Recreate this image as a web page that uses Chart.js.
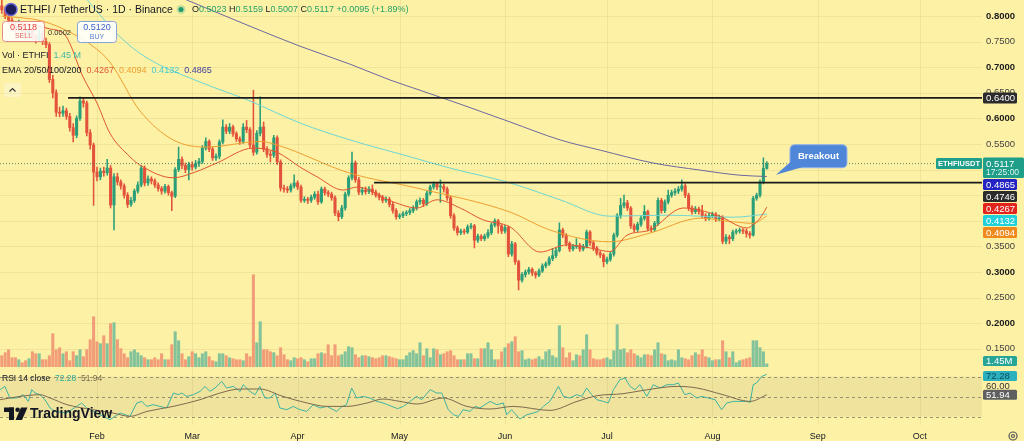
<!DOCTYPE html>
<html><head><meta charset="utf-8">
<script src="https://cdn.jsdelivr.net/npm/chart.js@4.4.1/dist/chart.umd.min.js"></script>
<style>html,body{margin:0;padding:0;background:#fdf1a6;overflow:hidden}canvas{display:block}</style>
</head><body>
<canvas id="c" width="1024" height="441"></canvas>
<script>
// ---------- DATA (day index: 0 = Jan 1) ----------
const candleStartDay = 3;
const firstOpen = 0.820;
const closes = [
0.812,0.800,0.792,0.780,0.776,0.783,0.770,0.764,0.773,0.760,
0.754,0.766,0.750,0.744,0.676,0.650,0.612,0.610,0.615,0.604,
0.582,0.567,0.600,0.634,0.630,0.572,0.548,0.495,0.486,0.497,
0.494,0.503,0.431,0.486,0.476,0.468,0.450,0.432,0.440,0.458,
0.470,0.503,0.474,0.482,0.478,0.470,0.463,0.458,0.467,0.455,
0.448,0.500,0.520,0.508,0.500,0.510,0.505,0.512,0.516,0.542,
0.555,0.540,0.523,0.526,0.554,0.583,0.575,0.583,0.570,0.560,
0.555,0.583,0.578,0.548,0.534,0.571,0.583,0.540,0.530,0.528,
0.562,0.515,0.464,0.462,0.460,0.468,0.474,0.466,0.440,0.442,
0.440,0.446,0.452,0.437,0.462,0.455,0.452,0.445,0.415,0.408,
0.425,0.452,0.484,0.513,0.480,0.456,0.460,0.457,0.462,0.456,
0.450,0.446,0.440,0.442,0.432,0.420,0.408,0.410,0.414,0.416,
0.420,0.425,0.437,0.440,0.433,0.454,0.466,0.472,0.466,0.467,
0.462,0.445,0.410,0.386,0.377,0.380,0.378,0.388,0.390,0.362,
0.370,0.365,0.370,0.377,0.392,0.400,0.390,0.380,0.387,0.335,
0.355,0.320,0.284,0.295,0.300,0.305,0.298,0.294,0.302,0.312,
0.316,0.326,0.332,0.342,0.382,0.372,0.356,0.345,0.350,0.352,
0.345,0.350,0.378,0.357,0.347,0.337,0.333,0.320,0.325,0.335,
0.372,0.410,0.430,0.435,0.425,0.390,0.383,0.393,0.405,0.418,
0.385,0.383,0.395,0.440,0.420,0.437,0.450,0.455,0.458,0.462,
0.468,0.450,0.425,0.418,0.423,0.418,0.410,0.405,0.410,0.412,
0.404,0.406,0.360,0.368,0.365,0.378,0.380,0.382,0.380,0.375,
0.372,0.444,0.450,0.476,0.5023,0.5117];
const highs = [
0.835,0.818,0.806,0.797,0.788,0.792,0.787,0.776,0.781,0.777,
0.765,0.772,0.770,0.757,0.748,0.684,0.656,0.622,0.624,0.620,
0.610,0.590,0.605,0.642,0.640,0.634,0.578,0.552,0.505,0.503,
0.505,0.520,0.508,0.492,0.493,0.480,0.472,0.455,0.446,0.462,
0.476,0.508,0.507,0.488,0.486,0.482,0.474,0.467,0.471,0.470,
0.458,0.504,0.544,0.525,0.513,0.514,0.515,0.518,0.522,0.547,
0.562,0.558,0.544,0.531,0.558,0.597,0.588,0.590,0.587,0.574,
0.564,0.590,0.596,0.582,0.655,0.576,0.642,0.593,0.545,0.536,
0.567,0.566,0.519,0.470,0.467,0.472,0.490,0.478,0.470,0.447,
0.446,0.450,0.457,0.458,0.466,0.466,0.459,0.456,0.449,0.420,
0.430,0.456,0.488,0.534,0.517,0.485,0.465,0.466,0.467,0.470,
0.460,0.454,0.450,0.447,0.446,0.436,0.424,0.414,0.418,0.420,
0.424,0.429,0.441,0.445,0.444,0.458,0.470,0.476,0.475,0.480,
0.471,0.466,0.448,0.414,0.390,0.384,0.384,0.392,0.395,0.393,
0.374,0.373,0.374,0.383,0.396,0.404,0.403,0.393,0.391,0.390,
0.360,0.358,0.323,0.299,0.304,0.309,0.308,0.301,0.306,0.316,
0.320,0.330,0.346,0.347,0.396,0.386,0.375,0.359,0.354,0.365,
0.356,0.354,0.382,0.381,0.360,0.350,0.341,0.336,0.329,0.339,
0.376,0.414,0.444,0.450,0.440,0.428,0.394,0.397,0.410,0.430,
0.421,0.390,0.399,0.445,0.444,0.441,0.460,0.460,0.463,0.467,
0.480,0.472,0.454,0.429,0.428,0.427,0.430,0.414,0.415,0.417,
0.416,0.411,0.410,0.373,0.372,0.382,0.384,0.386,0.385,0.384,
0.379,0.448,0.454,0.480,0.523,0.5159];
const lows = [
0.805,0.795,0.786,0.772,0.768,0.771,0.764,0.757,0.760,0.754,
0.747,0.750,0.744,0.738,0.670,0.640,0.604,0.603,0.604,0.598,
0.575,0.554,0.562,0.596,0.622,0.566,0.540,0.430,0.478,0.480,
0.487,0.489,0.425,0.382,0.470,0.462,0.444,0.426,0.428,0.436,
0.454,0.466,0.468,0.469,0.472,0.465,0.458,0.452,0.454,0.450,
0.420,0.445,0.496,0.502,0.494,0.480,0.499,0.501,0.506,0.512,
0.538,0.535,0.518,0.518,0.521,0.550,0.570,0.570,0.565,0.555,
0.549,0.551,0.572,0.542,0.528,0.530,0.566,0.535,0.524,0.515,
0.524,0.510,0.458,0.456,0.455,0.456,0.464,0.461,0.436,0.436,
0.434,0.436,0.442,0.432,0.434,0.450,0.447,0.440,0.410,0.400,
0.404,0.421,0.448,0.480,0.475,0.451,0.451,0.452,0.453,0.451,
0.446,0.441,0.435,0.436,0.427,0.415,0.403,0.404,0.406,0.410,
0.412,0.416,0.421,0.432,0.428,0.430,0.450,0.462,0.461,0.436,
0.456,0.440,0.405,0.381,0.372,0.373,0.374,0.375,0.384,0.347,
0.358,0.361,0.361,0.366,0.373,0.388,0.376,0.375,0.376,0.330,
0.331,0.315,0.265,0.280,0.290,0.296,0.293,0.288,0.291,0.299,
0.308,0.313,0.322,0.328,0.339,0.367,0.351,0.340,0.341,0.346,
0.340,0.341,0.347,0.352,0.342,0.333,0.328,0.310,0.316,0.321,
0.331,0.368,0.405,0.425,0.420,0.385,0.378,0.379,0.389,0.401,
0.380,0.378,0.379,0.391,0.415,0.416,0.433,0.446,0.450,0.453,
0.458,0.445,0.420,0.413,0.414,0.413,0.406,0.400,0.401,0.406,
0.399,0.400,0.355,0.355,0.355,0.361,0.374,0.376,0.375,0.368,
0.366,0.370,0.440,0.446,0.472,0.5007];
// volume in millions
const volumes = [
5.5,7,8.5,4.5,4.5,3.5,2,3,4,7.5,
6.5,6.5,3.5,3.5,5.5,16.5,8.5,9.5,6.5,7.5,
3,7.5,5.5,8.5,5,
8.5,13.5,25,12.5,11.5,15.5,11.5,21.5,22,13.5,
9,6.5,4.5,7.5,8.5,7,5.5,4.5,3.5,3.5,
4.5,3.5,6.5,3.5,3.5,11,17.5,13,6.5,3.5,
5,7.5,6.5,4.5,6.5,7.5,5,3,2.5,6.5,
6.5,5.5,4.5,4,3.5,3.5,3,6.5,5,
46,12,22.5,8.5,8.5,7.5,7,5.5,9.5,6,
3.5,3,4.5,4,4.5,3.5,2.5,4,4,6.5,
7,6.5,11,5.5,11,5.5,6,7.5,10,9.5,
6,4.5,5.5,5.5,5,4.5,4,4.5,5.5,5.5,
5,4.5,4,3.5,
3.5,5.5,7,8,6.5,12,5.5,9,4.5,9,
8.5,6,6.5,7.5,8,5.5,3.5,3.5,3.5,6.5,
6.5,4,4,9,9,12,8.5,3.5,3.5,7.5,
9.5,11.5,12.5,15,7.5,8,3.5,4,3.5,4,
5,3.5,7.5,8.5,5.5,4.5,20.5,9.5,4.5,7,
3,6,5.5,8.5,16,8.5,4,3.5,3.5,4,
4.5,3.5,8,21,8.5,9,7,8.5,6.5,5.5,
4.5,6,6,5.5,8.5,12,6.5,6,3,3.5,
3,8.5,4.5,4,3.5,5.5,7,6,8.5,5,
4.5,3,3.5,3.5,13,7.5,4.5,7.5,2,3,
3.5,4,4.5,13,13,9.5,7.5,1.45];

const ema20Days = [5,12,17,21.6,26.9,31,34.8,40.7,43.6,53.4,59.8,66.3,76.9,83.9,90.7,95.7,103.4,107.5,118.1,125.1,131,137.8,144.5,152.5,161.3,169.2,176,181.9,186.9,193.6,203.4,213.4,222.2,224,226,227,228];
const ema20 = [0.790,0.783,0.775,0.763,0.681,0.630,0.571,0.525,0.509,0.484,0.495,0.513,0.542,0.534,0.505,0.486,0.460,0.466,0.437,0.425,0.441,0.425,0.402,0.388,0.339,0.353,0.347,0.340,0.372,0.382,0.425,0.411,0.386,0.392,0.405,0.415,0.4267];
const ema50Days = [3,15,24,30,34.8,43.6,53.4,63.4,79,84,105.4,125.1,152.5,164.2,181.9,193.6,208.4,218.1,224,228];
const ema50 = [0.800,0.790,0.765,0.740,0.710,0.615,0.558,0.544,0.555,0.548,0.493,0.464,0.417,0.382,0.359,0.376,0.405,0.398,0.395,0.4094];
const ema100Days = [27,37.8,45.7,61.3,76,90.7,105.4,123.1,134.8,152.5,167.2,181.9,198.6,218.1,228];
const ema100 = [0.840,0.759,0.718,0.671,0.634,0.591,0.558,0.525,0.503,0.474,0.441,0.409,0.411,0.407,0.4132];
const ema200Days = [46.6,57.5,76,90.7,105.4,117.2,126,137.8,152.5,167.2,179,194.5,208.4,220.1,228];
const ema200 = [0.861,0.831,0.780,0.741,0.706,0.675,0.655,0.628,0.593,0.558,0.538,0.513,0.499,0.489,0.4865];

const rsiDays = [2.5,3.9,5.4,7.4,9.3,10.8,11.8,12.8,14.2,15.7,17.2,18.6,22.1,25,26.5,28,30.9,32.9,34.8,37.8,40.7,42.7,44.2,45.6,47.6,49.5,51.5,53.5,54.9,55.9,57.4,59.3,61.3,62.8,64.2,65.7,67.7,69.1,71.1,73.1,74,76,77.5,78.9,80.4,81.9,83.4,84.8,86.8,88.7,90.7,92.7,94.6,96.6,98.6,101.5,103,104.4,105.9,107.4,109.3,111.3,113.3,115.2,117.2,119.4,121.1,123.1,125,126.5,129,130.9,132.4,134.3,135.8,137.3,138.7,140.7,142.2,143.6,145.1,146.6,148.6,150.5,151.5,152.9,155.4,157.4,159.3,160.8,162.3,164.2,166.7,168.2,170.1,172.1,173.6,175,176.5,178,179.9,181.4,182.9,184.8,186.3,187.8,189.2,190.7,192.7,194.6,196.6,198.6,200.5,202,203.9,205.4,207.4,208.8,210.8,212.8,214.7,216.2,218.2,220.1,222.1,223.1,224,225,226.5,228];
const rsiValues = [57,60.3,48.7,48.7,52,45.3,57,53.7,52,47,38.7,35.3,33.7,40.3,43.7,38.7,33.7,30.3,27,33.7,30.3,43.7,45.3,40.3,42,40.3,38.7,53.7,52,53.7,50.3,52,55.3,60.3,55.3,58.7,65.3,58.7,60.3,55.3,62,55.3,52,60.3,48.7,48.7,53.7,38.7,37,40.3,37,35.3,42,38.7,40.3,35.3,40,42,58.7,48.7,50.3,48.7,45.3,43.7,41,38,40.3,45.3,50.3,47,57,53.7,53.7,37,32,30.3,37,35.3,40.3,38.7,42,45.3,42,43.7,32,37,27.7,32,33.7,35.3,40.3,45.3,60.3,50.3,48.7,52,50.3,58.7,52,47,45.3,43.7,57,67,68.7,60.3,57,62,50.3,62,58.7,62,62,63.7,52,53.7,48.7,50.3,48.7,47,37,43.7,45.3,45.3,45.3,44.3,62,63.7,70.3,72.28];
const rsiMaDays = [2.5,8.4,14.2,17.2,22.2,29.8,35.7,40.7,45.7,53.4,61.3,67.2,73.1,78.9,85.7,92.8,98.6,104.5,110.4,115.1,120.1,125.1,132.8,139.8,146.6,153.4,164.2,172.2,178.1,185.7,191.6,201.6,207.5,215.1,223.1,228];
const rsiMaValues = [47,50.3,52,48.7,42,37,33.7,30.3,35.3,40.3,47,53.7,57.7,57.7,50.3,43.7,40.3,40.3,43.7,47.7,45.3,42.7,48.7,40.3,37.7,40.3,36.3,45.3,51,53,56.3,60.3,58.7,52,45.3,51.94];

const levelValues = [0.6400, 0.4746];
const levelStartDays = [22.5, 112.5];
const lastPrice = 0.5117;
const lastVolumeLabel = '1.45M';
const countdown = '17:25:00';
const calloutText = 'Breakout';
const calloutAnchor = {day: 230.7, price: 0.490};

const monthTickDays = [31,59,90,120,151,181,212,243,273];
const monthLabels = ['Feb','Mar','Apr','May','Jun','Jul','Aug','Sep','Oct'];
const priceTicks = [0.15,0.20,0.25,0.30,0.35,0.40,0.45,0.50,0.55,0.60,0.65,0.70,0.75,0.80];
const rsiBands = [70,50,30];

// ---------- STYLE ----------
const BG = '#fdf1a6';
const FONT = '"Liberation Sans", Arial, sans-serif';
const UP = '#2a9e78', DN = '#e2523c';
const VOL_UP = '#84c39a', VOL_DN = '#f19e78';
const C20 = '#e0562f', C50 = '#eea030', C100 = '#6fd6d2', C200 = '#6e699e';
const TEXT = '#131722';
const TEAL = '#1f9e89';

const candleDays = closes.map((_, i) => candleStartDay + i);
const opens = closes.map((c, i) => i === 0 ? firstOpen : closes[i - 1]);
const isUp = closes.map((c, i) => c >= opens[i]);
const pts = (xs, ys) => xs.map((x, i) => ({x, y: ys[i]}));
const last = a => a[a.length - 1];
const isMajor = c => !!(c && c.tick && Math.round(c.tick.value * 100) % 10 === 0);

const X_MIN = 8.4 / 3.4, X_MAX = (982 + 8.4) / 3.4;
const Y_MAX = 0.8 + 16 / 512, Y_MIN = Y_MAX - 425 / 512;

function rr(ctx, x, y, w, h, r) {
  ctx.beginPath();
  ctx.moveTo(x + r, y); ctx.lineTo(x + w - r, y); ctx.quadraticCurveTo(x + w, y, x + w, y + r);
  ctx.lineTo(x + w, y + h - r); ctx.quadraticCurveTo(x + w, y + h, x + w - r, y + h);
  ctx.lineTo(x + r, y + h); ctx.quadraticCurveTo(x, y + h, x, y + h - r);
  ctx.lineTo(x, y + r); ctx.quadraticCurveTo(x, y, x + r, y); ctx.closePath();
}
function runs(ctx, x, y, parts, font) {
  ctx.font = font; ctx.textAlign = 'left';
  for (const [t, c] of parts) { ctx.fillStyle = c; ctx.fillText(t, x, y); x += ctx.measureText(t).width; }
  return x;
}
function tag(ctx, yc, text, bg, fg, h) {
  h = h || 11;
  ctx.fillStyle = bg; rr(ctx, 983, yc - h / 2, 34, h, 1.5); ctx.fill();
  ctx.fillStyle = fg; ctx.font = '9.5px ' + FONT; ctx.textAlign = 'left'; ctx.textBaseline = 'middle';
  ctx.fillText(text, 986, yc + 0.5);
}

const background = {
  id: 'background',
  beforeDraw(chart) {
    const ctx = chart.ctx, {left, right, top, bottom} = chart.chartArea;
    const ys = chart.scales.y, yr = chart.scales.yRsi, xs = chart.scales.x;
    ctx.save();
    ctx.fillStyle = BG; ctx.fillRect(0, 0, chart.width, chart.height);
    const y70 = yr.getPixelForValue(70), y30 = yr.getPixelForValue(30);
    ctx.fillStyle = 'rgba(150,140,110,0.13)';
    ctx.fillRect(left, y70, right - left, y30 - y70);
    ctx.strokeStyle = 'rgba(150,130,50,0.11)'; ctx.lineWidth = 1;
    priceTicks.forEach(v => {
      const py = Math.round(ys.getPixelForValue(v)) + 0.5;
      ctx.beginPath(); ctx.moveTo(left, py); ctx.lineTo(right, py); ctx.stroke();
    });
    monthTickDays.forEach(d => {
      const px = Math.round(xs.getPixelForValue(d)) + 0.5;
      ctx.beginPath(); ctx.moveTo(px, top); ctx.lineTo(px, bottom); ctx.stroke();
    });
    ctx.setLineDash([3, 3]); ctx.strokeStyle = 'rgba(90,90,80,0.6)';
    rsiBands.forEach(v => {
      const py = Math.round(yr.getPixelForValue(v)) + 0.5;
      ctx.beginPath(); ctx.moveTo(left, py); ctx.lineTo(right, py); ctx.stroke();
    });
    ctx.restore();
  }
};

const overlay = {
  id: 'overlay',
  afterDraw(chart) {
    const ctx = chart.ctx, ys = chart.scales.y, yv = chart.scales.yVol, yr = chart.scales.yRsi, xs = chart.scales.x;
    ctx.save();
    ctx.textBaseline = 'middle';
    // header
    ctx.beginPath(); ctx.arc(11, 9.5, 6, 0, Math.PI * 2); ctx.fillStyle = '#1d1d5c'; ctx.fill();
    ctx.lineWidth = 1.5; ctx.strokeStyle = '#6a6ad8'; ctx.stroke();
    runs(ctx, 20, 10, [['ETHFI / TetherUS · 1D · Binance', TEXT]], '10.5px ' + FONT);
    ctx.beginPath(); ctx.arc(181, 9.5, 4.5, 0, Math.PI * 2); ctx.fillStyle = 'rgba(38,166,120,0.25)'; ctx.fill();
    ctx.beginPath(); ctx.arc(181, 9.5, 2.5, 0, Math.PI * 2); ctx.fillStyle = '#1f9a6c'; ctx.fill();
    const G = '#26a269';
    runs(ctx, 192, 10, [['O', TEXT], ['0.5023', G], [' H', TEXT], ['0.5159', G], [' L', TEXT], ['0.5007', G], [' C', TEXT], ['0.5117', G], [' +0.0095 (+1.89%)', G]], '9px ' + FONT);
    // sell / buy
    ctx.fillStyle = 'rgba(255,255,255,0.88)'; rr(ctx, 2.5, 21.5, 42, 20, 3); ctx.fill();
    ctx.strokeStyle = '#e58a84'; ctx.lineWidth = 1; ctx.stroke();
    ctx.textAlign = 'center';
    ctx.font = '9px ' + FONT; ctx.fillStyle = '#e0413c'; ctx.fillText('0.5118', 23.5, 27.5);
    ctx.font = '7px ' + FONT; ctx.fillStyle = '#e06a6a'; ctx.fillText('SELL', 23.5, 36.5);
    ctx.fillStyle = 'rgba(255,255,255,0.88)'; rr(ctx, 77.5, 21.5, 39, 21, 3); ctx.fill();
    ctx.strokeStyle = '#8aa2de'; ctx.stroke();
    ctx.font = '9px ' + FONT; ctx.fillStyle = '#3b63d1'; ctx.fillText('0.5120', 97, 27.5);
    ctx.font = '7px ' + FONT; ctx.fillStyle = '#5a7fd8'; ctx.fillText('BUY', 97, 37);
    ctx.font = '7.5px ' + FONT; ctx.fillStyle = '#333'; ctx.fillText('0.0002', 59.5, 32.5);
    // legends
    runs(ctx, 2, 55.5, [['Vol · ETHFI  ', TEXT], ['1.45 M', '#3fb8a8']], '9px ' + FONT);
    runs(ctx, 2, 71, [['EMA 20/50/100/200  ', TEXT], [last(ema20).toFixed(4) + '  ', C20], [last(ema50).toFixed(4) + '  ', C50], [last(ema100).toFixed(4) + '  ', '#45c9cf'], [last(ema200).toFixed(4), '#3e3e9e']], '9px ' + FONT);
    ctx.fillStyle = 'rgba(255,255,255,0.3)'; rr(ctx, 4, 83, 17, 14, 2); ctx.fill();
    ctx.strokeStyle = '#333'; ctx.lineWidth = 1.1; ctx.beginPath(); ctx.moveTo(9.5, 91.5); ctx.lineTo(12.5, 88.5); ctx.lineTo(15.5, 91.5); ctx.stroke();
    runs(ctx, 2, 378.5, [['RSI 14 close  ', TEXT], [last(rsiValues).toFixed(2) + '  ', '#2fae9c'], [last(rsiMaValues).toFixed(2), '#7d6b4f']], '8.5px ' + FONT);
    // TradingView logo
    ctx.fillStyle = TEXT;
    ctx.fillRect(4, 407.5, 10, 4.5); ctx.fillRect(9, 407.5, 5, 12.5);
    ctx.beginPath(); ctx.arc(17.6, 409.8, 2.3, 0, Math.PI * 2); ctx.fill();
    ctx.beginPath(); ctx.moveTo(21, 407.5); ctx.lineTo(27.5, 407.5); ctx.lineTo(22, 420); ctx.lineTo(15.5, 420); ctx.closePath(); ctx.fill();
    ctx.font = 'bold 14px ' + FONT; ctx.textAlign = 'left'; ctx.fillText('TradingView', 30, 414);
    // level tag
    tag(ctx, ys.getPixelForValue(levelValues[0]), levelValues[0].toFixed(4), '#2b2b2b', '#fff');
    // last price tags
    const yl = ys.getPixelForValue(lastPrice);
    ctx.fillStyle = TEAL; rr(ctx, 983, yl - 6, 41, 20.5, 1.5); ctx.fill();
    ctx.fillStyle = '#fff'; ctx.font = '9.5px ' + FONT; ctx.textAlign = 'left';
    ctx.fillText(lastPrice.toFixed(4), 986, yl + 0.5);
    ctx.font = '8.5px ' + FONT; ctx.fillStyle = '#dff7f1'; ctx.fillText(countdown, 986, yl + 9.5);
    ctx.fillStyle = TEAL; rr(ctx, 936, yl - 5.5, 46, 11, 1.5); ctx.fill();
    ctx.fillStyle = '#fff'; ctx.font = 'bold 7.5px ' + FONT; ctx.textAlign = 'center'; ctx.fillText('ETHFIUSDT', 959, yl + 0.5);
    const tags = [
      {v: last(ema200), bg: '#2424c4', fg: '#fff'},
      {v: levelValues[1], bg: '#2b2b2b', fg: '#fff'},
      {v: last(ema20), bg: '#e3241d', fg: '#fff'},
      {v: last(ema100), bg: '#22d0dc', fg: '#fff'},
      {v: last(ema50), bg: '#f08a1d', fg: '#fff'}
    ].sort((a, b) => b.v - a.v);
    let prevBottom = yl + 14.5;
    tags.forEach(t => {
      const yc = Math.max(ys.getPixelForValue(t.v), prevBottom + 6.5);
      tag(ctx, yc, t.v.toFixed(4), t.bg, t.fg);
      prevBottom = yc + 5.5;
    });
    // volume + rsi tags
    tag(ctx, Math.min(yv.getPixelForValue(last(volumes)), 361), lastVolumeLabel, '#27a596', '#fff', 10);
    tag(ctx, Math.max(yr.getPixelForValue(last(rsiValues)), 376), last(rsiValues).toFixed(2), '#2ab0bf', '#0f4c5c', 10);
    ctx.fillStyle = '#333'; ctx.font = '9.5px ' + FONT; ctx.textAlign = 'left'; ctx.fillText('60.00', 986, yr.getPixelForValue(60));
    tag(ctx, yr.getPixelForValue(last(rsiMaValues)), last(rsiMaValues).toFixed(2), '#5f5f5f', '#fff', 10);
    // callout
    const ax = xs.getPixelForValue(calloutAnchor.day), ay = ys.getPixelForValue(calloutAnchor.price);
    const bx = ax + 14, by = ay - 30;
    ctx.fillStyle = '#4f86d8'; ctx.strokeStyle = '#8fb3ee'; ctx.lineWidth = 1;
    rr(ctx, bx, by, 57, 23, 5); ctx.fill(); ctx.stroke();
    ctx.beginPath(); ctx.moveTo(bx + 3, by + 15); ctx.lineTo(bx + 12, by + 22.5); ctx.lineTo(ax, ay); ctx.closePath(); ctx.fill();
    ctx.fillStyle = '#fff'; ctx.font = 'bold 9.5px ' + FONT; ctx.textAlign = 'center'; ctx.fillText(calloutText, bx + 28.5, by + 11.5);
    // gear
    ctx.strokeStyle = '#555'; ctx.lineWidth = 1.2;
    ctx.beginPath(); ctx.arc(1013, 436, 4, 0, Math.PI * 2); ctx.stroke();
    ctx.beginPath(); ctx.arc(1013, 436, 1.5, 0, Math.PI * 2); ctx.stroke();
    ctx.restore();
  }
};

const lineDs = (data, color, yAxisID, order, extra) => Object.assign({
  type: 'line', data, yAxisID, borderColor: color, borderWidth: 1, pointRadius: 0, fill: false, order
}, extra || {});
const levelLine = i => [{x: levelStartDays[i], y: levelValues[i]}, {x: X_MAX, y: levelValues[i]}];
const noPad = s => { s.paddingTop = 0; s.paddingBottom = 0; s.paddingLeft = 0; s.paddingRight = 0; };

new Chart(document.getElementById('c'), {
  type: 'bar',
  data: {
    datasets: [
      lineDs(levelLine(0), '#1b1b1b', 'y', 1, {borderWidth: 1.7}),
      lineDs(levelLine(1), '#1b1b1b', 'y', 1, {borderWidth: 1.7}),
      lineDs([{x: X_MIN, y: lastPrice}, {x: X_MAX, y: lastPrice}], 'rgba(40,110,90,0.8)', 'y', 2, {borderDash: [1, 2]}),
      lineDs(pts(ema20Days, ema20), C20, 'y', 3, {cubicInterpolationMode: 'monotone'}),
      lineDs(pts(ema50Days, ema50), C50, 'y', 4, {cubicInterpolationMode: 'monotone'}),
      lineDs(pts(ema100Days, ema100), C100, 'y', 5, {cubicInterpolationMode: 'monotone'}),
      lineDs(pts(ema200Days, ema200), C200, 'y', 6, {cubicInterpolationMode: 'monotone'}),
      {type: 'bar', data: candleDays.map((d, i) => ({x: d, y: [opens[i], closes[i]]})), yAxisID: 'y',
        backgroundColor: isUp.map(u => u ? UP : DN), barThickness: 2.4, minBarLength: 1, grouped: false, borderWidth: 0, order: 7},
      {type: 'bar', data: candleDays.map((d, i) => ({x: d, y: [lows[i], highs[i]]})), yAxisID: 'y',
        backgroundColor: isUp.map(u => u ? UP : DN), barThickness: 0.9, grouped: false, borderWidth: 0, order: 8},
      lineDs(pts(rsiMaDays, rsiMaValues), '#7d6b4f', 'yRsi', 9, {cubicInterpolationMode: 'monotone'}),
      lineDs(pts(rsiDays, rsiValues), '#3db5a2', 'yRsi', 10),
      {type: 'bar', data: candleDays.map((d, i) => ({x: d, y: volumes[i]})), yAxisID: 'yVol',
        backgroundColor: isUp.map(u => u ? VOL_UP : VOL_DN), barThickness: 2.4, grouped: false, borderWidth: 0, order: 11}
    ]
  },
  options: {
    responsive: false, animation: false, events: [],
    layout: {padding: 0},
    plugins: {legend: {display: false}, tooltip: {enabled: false}},
    scales: {
      x: {type: 'linear', min: X_MIN, max: X_MAX, offset: false,
        grid: {display: false, drawTicks: false, offset: false}, border: {display: false},
        afterBuildTicks: s => { s.ticks = monthTickDays.map(v => ({value: v})); },
        afterFit: s => { s.height = 16; noPad(s); },
        ticks: {autoSkip: false, maxRotation: 0, padding: 6, color: TEXT, font: {family: FONT, size: 9},
          callback: (v, i) => monthLabels[i]}},
      y: {type: 'linear', position: 'right', min: Y_MIN, max: Y_MAX,
        grid: {display: false, drawTicks: false}, border: {display: false},
        afterBuildTicks: s => { s.ticks = priceTicks.map(v => ({value: v})); },
        afterFit: s => { s.width = 42; noPad(s); },
        ticks: {autoSkip: false, padding: 4,
          color: c => isMajor(c) ? '#1a1a1a' : '#444',
          font: c => ({family: FONT, size: 9.5, weight: isMajor(c) ? 'bold' : 'normal'}),
          callback: v => Number(v).toFixed(4)}},
      yVol: {type: 'linear', display: false, min: -29.15, max: 183.35},
      yRsi: {type: 'linear', display: false, min: 21.7, max: 446.7}
    }
  },
  plugins: [background, overlay]
});
</script>
</body></html>
